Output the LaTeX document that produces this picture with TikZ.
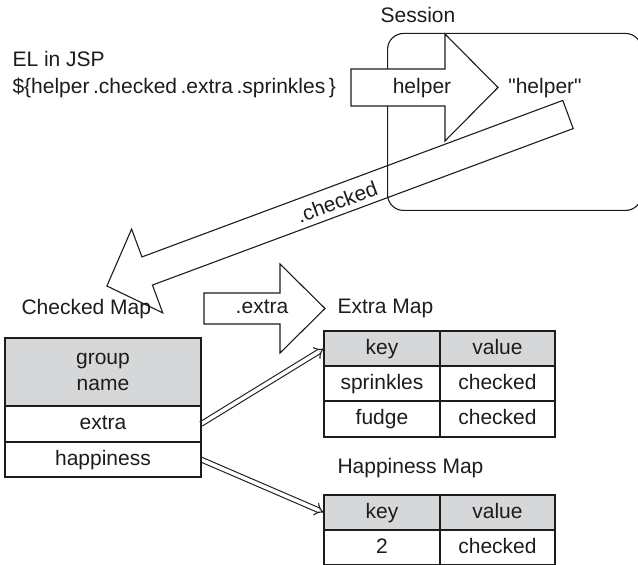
\documentclass[tikz,border=0pt]{standalone}
\usepackage{fontspec}
\setmainfont{Liberation Sans}[Ligatures=TeXOff]
\usetikzlibrary{arrows.meta,positioning,backgrounds}
\definecolor{elink}{HTML}{1C1C1C}
\definecolor{elgray}{HTML}{D6D7D9}
% block arrow outline: length, shaft half width, head half width, head length
\newcommand{\blockarrow}[4]{(0,-#2) -- ({#1-#4},-#2) -- ({#1-#4},-#3) -- (#1,0) -- ({#1-#4},#3) -- ({#1-#4},#2) -- (0,#2) -- cycle}

\begin{document}
\begin{tikzpicture}[x=1pt,y=1pt,font=\fontsize{21}{26}\selectfont,text=elink,
    bigarrow/.style={draw=elink,line width=1.1pt,line join=miter},
    cell/.style={draw=elink,line width=1.6pt,inner sep=0pt,outer sep=0pt,minimum height=35pt},
    onerow/.style={text height=15pt,text depth=3pt},
    headcell/.style={cell,fill=elgray},
    linkarrow/.style={draw=elink,line width=1.1pt,double=white,double distance=3.6pt,-{Implies}}]
  \useasboundingbox (0,0) rectangle (638,565);

  % session
  \node[anchor=base] (session) at (418,542) {Session};
  \node[draw=elink,line width=1.1pt,rounded corners=16pt,minimum width=254pt,minimum height=177pt,
    inner sep=0pt,anchor=south west] (sessionbox) at (387,354) {};

  \begin{scope}[shift={(351,477.5)}]
    \draw[bigarrow,fill=white] \blockarrow{147}{18.5}{53.5}{53};
  \end{scope}

  \node[anchor=base west] (ellabel) at (9,498) {EL in JSP};
  \node[anchor=base west] (elexpr) at (9,471) {\$\{helper\,.checked\,.extra\,.sprinkles\,\}};
  \node[anchor=base] (helperkey) at (422,471) {helper};
  \node[anchor=base] (helperattr) at (545,471) {"helper"};

  % .checked
  \begin{scope}[shift={(568,450.5)},rotate=200.4]
    \draw[bigarrow] \blockarrow{492}{15}{44.7}{43};
  \end{scope}
  \node[rotate=20.4] (checkedstep) at (337,363) {.checked};

  % .extra
  \begin{scope}[shift={(204,256.5)}]
    \draw[bigarrow,fill=white] \blockarrow{121}{15.5}{44.5}{45};
  \end{scope}
  \node[anchor=base] (extrastep) at (262,251) {.extra};

  \node[anchor=base west] (checkedtitle) at (18,250) {Checked Map};
  \node[anchor=base west] (extratitle) at (334,251) {Extra Map};
  \node[anchor=base west] (happytitle) at (334,91) {Happiness Map};

  % checked map
  \node[headcell,minimum width=196pt,minimum height=68pt,align=center,anchor=north west] (cgroup) at (5,227) {group\\name};
  \node[cell,onerow,minimum width=196pt,minimum height=36pt,below=0pt of cgroup] (cextra) {extra};
  \node[cell,onerow,minimum width=196pt,below=0pt of cextra] (chappy) {happiness};

  % extra map
  \node[headcell,onerow,minimum width=116pt,anchor=north west] (ekey) at (324,234) {key};
  \node[headcell,onerow,minimum width=115pt,right=0pt of ekey] (evalue) {value};
  \node[cell,onerow,minimum width=116pt,below=0pt of ekey] (ekey1) {sprinkles};
  \node[cell,onerow,minimum width=115pt,below=0pt of evalue] (evalue1) {checked};
  \node[cell,onerow,minimum width=116pt,minimum height=36pt,below=0pt of ekey1] (ekey2) {fudge};
  \node[cell,onerow,minimum width=115pt,minimum height=36pt,below=0pt of evalue1] (evalue2) {checked};

  % happiness map
  \node[headcell,onerow,minimum width=116pt,anchor=north west] (hkey) at (324,70) {key};
  \node[headcell,onerow,minimum width=115pt,right=0pt of hkey] (hvalue) {value};
  \node[cell,onerow,minimum width=116pt,below=0pt of hkey] (hkey1) {2};
  \node[cell,onerow,minimum width=115pt,below=0pt of hvalue] (hvalue1) {checked};

  \begin{scope}[on background layer]
    \draw[linkarrow] (cextra.east) -- (ekey.west);
    \draw[linkarrow] (chappy.east) -- (hkey.west);
  \end{scope}
\end{tikzpicture}
\end{document}
